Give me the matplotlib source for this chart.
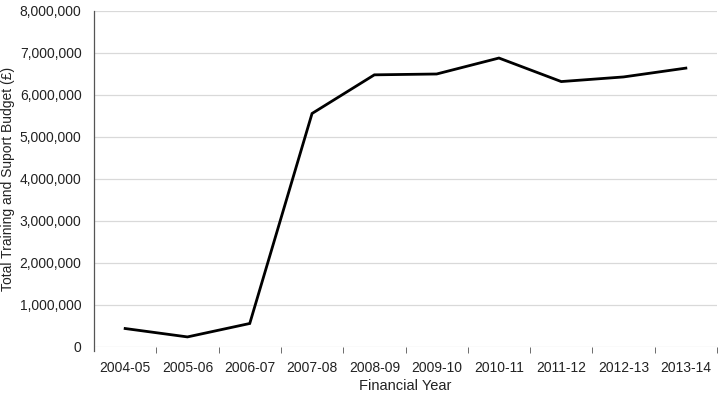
import matplotlib.pyplot as plt
import numpy as np

plt.rcParams['font.family'] = ['Liberation Sans', 'DejaVu Sans']

# Datos
years = ['2004-05', '2005-06', '2006-07', '2007-08', '2008-09',
         '2009-10', '2010-11', '2011-12', '2012-13', '2013-14']
budget = [440000, 240000, 560000, 5560000, 6480000,
          6500000, 6880000, 6320000, 6430000, 6640000]

fig = plt.figure(figsize=(7.23, 3.96), dpi=100)
ax = fig.add_axes([94/723, 1 - 347/396, 623/723, 336/396])

x = np.arange(len(years))
ax.plot(x, budget, color='black', linewidth=2.0, solid_joinstyle='miter')

ax.set_xlim(-0.5, len(years) - 0.5)
ax.set_ylim(0, 8000000)
ax.set_yticks(np.arange(0, 8000001, 1000000))
ax.yaxis.set_major_formatter(plt.FuncFormatter(lambda v, p: f'{int(v):,}'))
ax.grid(axis='y', color='#d9d9d9', linewidth=0.9)
ax.set_axisbelow(True)

ax.set_xticks(x)
ax.set_xticklabels(years)
ax.set_xticks(np.arange(0.5, len(years) - 0.4, 1), minor=True)
ax.tick_params(axis='x', which='major', length=0, pad=10, labelsize=10, colors='#222222')
ax.tick_params(axis='x', which='minor', length=4, color='#555555')
ax.tick_params(axis='y', length=0, pad=9, labelsize=10, colors='#222222')

for s in ['top', 'right', 'bottom']:
    ax.spines[s].set_visible(False)
ax.spines['left'].set_color('#555555')
ax.spines['left'].set_linewidth(0.9)
ax.spines['left'].set_bounds(-90000, 8000000)

ax.set_xlabel('Financial Year', fontsize=10.5, color='#222222', labelpad=3)
ax.set_ylabel('Total Training and Suport Budget (£)', fontsize=10, color='#222222')
ax.yaxis.set_label_coords(-0.127, 0.5)

fig.savefig('out.png', dpi=100)
